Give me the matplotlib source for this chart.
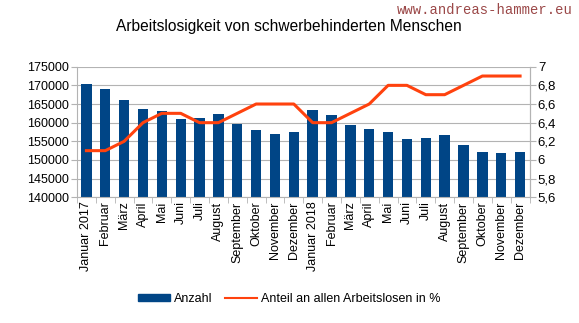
import numpy as np
import matplotlib
matplotlib.use('Agg')
import matplotlib.pyplot as plt
from matplotlib.patches import Patch
from matplotlib.lines import Line2D

plt.rcParams['font.family'] = ['Liberation Sans', 'DejaVu Sans']

months = ['Januar 2017', 'Februar', 'März', 'April', 'Mai', 'Juni', 'Juli',
          'August', 'September', 'Oktober', 'November', 'Dezember',
          'Januar 2018', 'Februar', 'März', 'April', 'Mai', 'Juni', 'Juli',
          'August', 'September', 'Oktober', 'November', 'Dezember']

anzahl = [170300, 169000, 166100, 163700, 163000, 161000, 161300, 162300,
          159650, 158000, 157000, 157500, 163400, 162000, 159300, 158300,
          157600, 155600, 156000, 156700, 154000, 152100, 151900, 152100]

anteil = [6.1, 6.1, 6.2, 6.4, 6.5, 6.5, 6.4, 6.4, 6.5, 6.6, 6.6, 6.6,
          6.4, 6.4, 6.5, 6.6, 6.8, 6.8, 6.7, 6.7, 6.8, 6.9, 6.9, 6.9]

left_ticks = [140000, 145000, 150000, 155000, 160000, 165000, 170000, 175000]
right_ticks = [5.6, 5.8, 6.0, 6.2, 6.4, 6.6, 6.8, 7.0]

bar_color = '#004586'
line_color = '#ff420e'
grid_color = '#b3b3b3'

fig = plt.figure(figsize=(5.79, 3.23), dpi=100)
ax = fig.add_axes([77 / 579, 1 - 197.3 / 323, (529.5 - 77) / 579, (197.3 - 66.7) / 323])

x = np.arange(len(months))
ax.bar(x, anzahl, width=0.55, color=bar_color, zorder=2)
ax.set_ylim(140000, 175000)
ax.set_xlim(-0.5, len(months) - 0.5)
ax.set_yticks(left_ticks)
ax.set_yticklabels([str(v) for v in left_ticks], fontsize=9)
ax.yaxis.grid(True, color=grid_color, linewidth=0.8, zorder=0)
ax.set_axisbelow(True)

ax.set_xticks(x)
ax.set_xticklabels(months, rotation=90, fontsize=9)
ax.tick_params(axis='x', length=0, pad=3)
ax.set_xticks(np.arange(-0.5, len(months), 1), minor=True)
ax.tick_params(axis='x', which='minor', length=4, color=grid_color)
ax.tick_params(axis='y', length=4, color=grid_color, pad=2)

ax.spines['top'].set_visible(False)
for s in ['left', 'bottom', 'right']:
    ax.spines[s].set_color(grid_color)

ax2 = ax.twinx()
ax2.plot(x, anteil, color=line_color, linewidth=2.2, zorder=3)
ax2.set_ylim(5.6, 7.0)
ax2.set_yticks(right_ticks)
ax2.set_yticklabels([f'{v:g}'.replace('.', ',') for v in right_ticks], fontsize=9.5)
ax2.tick_params(axis='y', length=4, color=grid_color, pad=2)
for s in ['top', 'left', 'bottom']:
    ax2.spines[s].set_visible(False)
ax2.spines['right'].set_color(grid_color)

fig.text(289 / 579, 1 - 27 / 323, 'Arbeitslosigkeit von schwerbehinderten Menschen',
         ha='center', va='center', fontsize=11.2)
fig.text(573 / 579, 1 - 10 / 323, 'www.andreas-hammer.eu', ha='right', va='center',
         fontsize=10, family='Liberation Mono', color='#9b4848')

handles = [Patch(facecolor=bar_color, edgecolor=bar_color),
           Line2D([0], [0], color=line_color, linewidth=1.5)]
fig.legend(handles, ['Anzahl', 'Anteil an allen Arbeitslosen in %'],
           loc='center', bbox_to_anchor=(289 / 579, 1 - 299 / 323), ncol=2,
           frameon=False, fontsize=9, handlelength=2.6, handleheight=0.5,
           columnspacing=1.0, handletextpad=0.3)

fig.savefig('out.png', dpi=100)
